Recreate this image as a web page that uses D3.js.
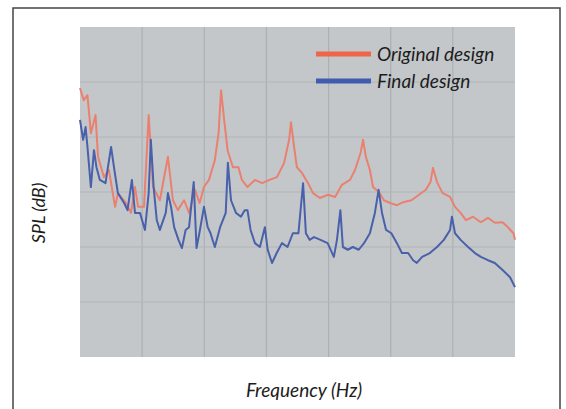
<!DOCTYPE html>
<head>
<meta charset="utf-8">
<style>
  body { margin:0; background:#fff; }
  svg { display:block; }
  text { font-family: Lato, "Open Sans", sans-serif; font-style: italic; fill:#1c1c1c; }
</style>
<script src="https://d3js.org/d3.v7.min.js"></script>
</head>
<body>
<script>

var width = 566;
var height = 409;

// frequency (Hz) and SPL (dB)
var origFreq = [0,12,24,35,50,58,77,93,113,122,148,164,177,187,206,221,235,257,283,299,315,335,351,370,385,399,415,434,446,454,463,475,492,510,521,539,563,586,610,634,657,673,679,689,698,714,734,750,772,798,821,843,869,885,903,911,920,933,943,962,978,998,1020,1043,1067,1091,1113,1128,1136,1149,1167,1191,1207,1225,1242,1265,1290,1313,1335,1360,1377,1395,1400];
var origSpl = [68.9,66.7,67.6,60.7,64.0,56.4,52.7,54.0,47.3,49.8,48.0,46.2,50.9,47.3,47.3,64.0,50.9,48.5,56.4,48.5,46.7,48.5,46.2,50.4,48.0,50.9,52.2,55.8,60.7,68.5,63.6,57.6,54.5,54.5,52.2,50.9,52.2,51.6,52.2,52.7,55.3,59.5,62.7,58.2,54.5,53.5,51.6,49.8,48.9,49.5,49.1,51.3,52.2,54.0,57.1,59.5,56.4,54.0,50.9,50.0,48.5,48.0,47.6,48.2,48.5,49.5,50.4,51.8,54.4,51.8,49.8,49.1,47.3,46.2,44.9,45.5,44.5,45.3,44.4,44.5,43.6,42.5,41.3];

var finalFreq = [0,10,18,24,35,45,53,64,82,100,112,122,142,153,167,177,193,209,221,228,237,247,257,276,283,293,303,317,328,340,351,366,375,386,399,411,420,434,451,469,476,486,502,518,530,539,549,563,579,595,604,618,633,650,668,685,703,718,727,739,753,774,797,817,827,838,846,862,878,897,914,933,949,961,972,985,1002,1020,1036,1056,1072,1084,1101,1126,1149,1171,1191,1197,1207,1225,1249,1271,1290,1313,1335,1360,1384,1400];
var finalSpl = [63.1,59.5,61.8,58.2,50.9,57.6,54.5,52.2,51.6,58.2,53.5,49.8,48.0,46.7,52.2,46.2,46.2,43.1,49.8,59.5,50.9,44.9,43.1,46.2,49.8,47.3,43.6,41.3,39.8,43.1,43.6,51.8,39.8,43.1,47.3,43.6,42.5,40.0,43.6,46.2,55.3,48.5,46.2,45.5,46.7,46.7,43.1,40.7,40.0,43.6,39.5,37.1,38.9,40.7,40.0,42.5,42.5,51.6,42.5,41.3,41.8,41.3,40.7,38.2,41.3,46.7,40.0,39.5,40.0,39.5,40.7,42.5,46.2,50.4,46.2,43.1,42.5,40.7,38.9,38.9,37.6,37.1,38.2,38.9,40.0,41.3,43.1,45.5,42.5,41.3,40.0,38.9,38.2,37.6,37.1,35.8,34.5,32.7];

var gridFreq = [200,400,600,800,1000,1200];
var gridSpl = [30,40,50,60,70];

var seriesNames = ["Original design", "Final design"];
var seriesColors = ["#f0654a", "#3f5caf"];
var lineColors = ["#ea8070", "#4a60aa"];

var svg = d3.select("body").append("svg")
    .attr("width", width)
    .attr("height", height);

// soft edges like the printed figure
svg.append("defs").append("filter")
    .attr("id", "soft")
    .append("feGaussianBlur").attr("stdDeviation", 0.5);

// outer frame, open at the bottom
svg.append("path")
    .attr("d", "M13,409V8H560V409")
    .attr("fill", "none")
    .attr("stroke", "#444")
    .attr("stroke-width", 1.5);

var x = d3.scaleLinear().domain([0, 1400]).range([80, 515]);
var y = d3.scaleLinear().domain([20, 80]).range([357, 27]);

svg.append("rect")
    .attr("x", x(0)).attr("y", y(80))
    .attr("width", x(1400) - x(0)).attr("height", y(20) - y(80))
    .attr("fill", "#c3c7c9");

svg.append("g").selectAll("line")
    .data(gridFreq)
    .enter().append("line")
    .attr("x1", d => x(d)).attr("x2", d => x(d))
    .attr("y1", y(80)).attr("y2", y(20))
    .attr("stroke", "#acb0b3").attr("stroke-width", 1.2);

svg.append("g").selectAll("line")
    .data(gridSpl)
    .enter().append("line")
    .attr("y1", d => y(d)).attr("y2", d => y(d))
    .attr("x1", x(0)).attr("x2", x(1400))
    .attr("stroke", "#b2b6b9").attr("stroke-width", 1.2);

var line = d3.line()
    .x(d => x(d[0]))
    .y(d => y(d[1]));

var series = [d3.zip(origFreq, origSpl), d3.zip(finalFreq, finalSpl)];

svg.append("g").selectAll("path")
    .data(series)
    .enter().append("path")
    .attr("d", line)
    .attr("fill", "none")
    .attr("stroke", (d, i) => lineColors[i])
    .attr("stroke-width", 2)
    .attr("stroke-linejoin", "round")
    .attr("filter", "url(#soft)");

// legend
var legend = svg.append("g").selectAll("g")
    .data(seriesNames)
    .enter().append("g")
    .attr("transform", (d, i) => "translate(316," + (54 + i * 27) + ")");

legend.append("line")
    .attr("x1", 0).attr("x2", 55)
    .attr("stroke", (d, i) => seriesColors[i])
    .attr("stroke-width", 5);

legend.append("text")
    .attr("x", 61).attr("y", 7)
    .style("font-size", "19px")
    .text(d => d);

svg.append("text")
    .attr("x", 304).attr("y", 397)
    .attr("text-anchor", "middle")
    .style("font-size", "19px")
    .text("Frequency (Hz)");

svg.append("text")
    .attr("transform", "translate(45,213) rotate(-90)")
    .attr("text-anchor", "middle")
    .style("font-size", "18px")
    .text("SPL (dB)");

</script>
</body>
